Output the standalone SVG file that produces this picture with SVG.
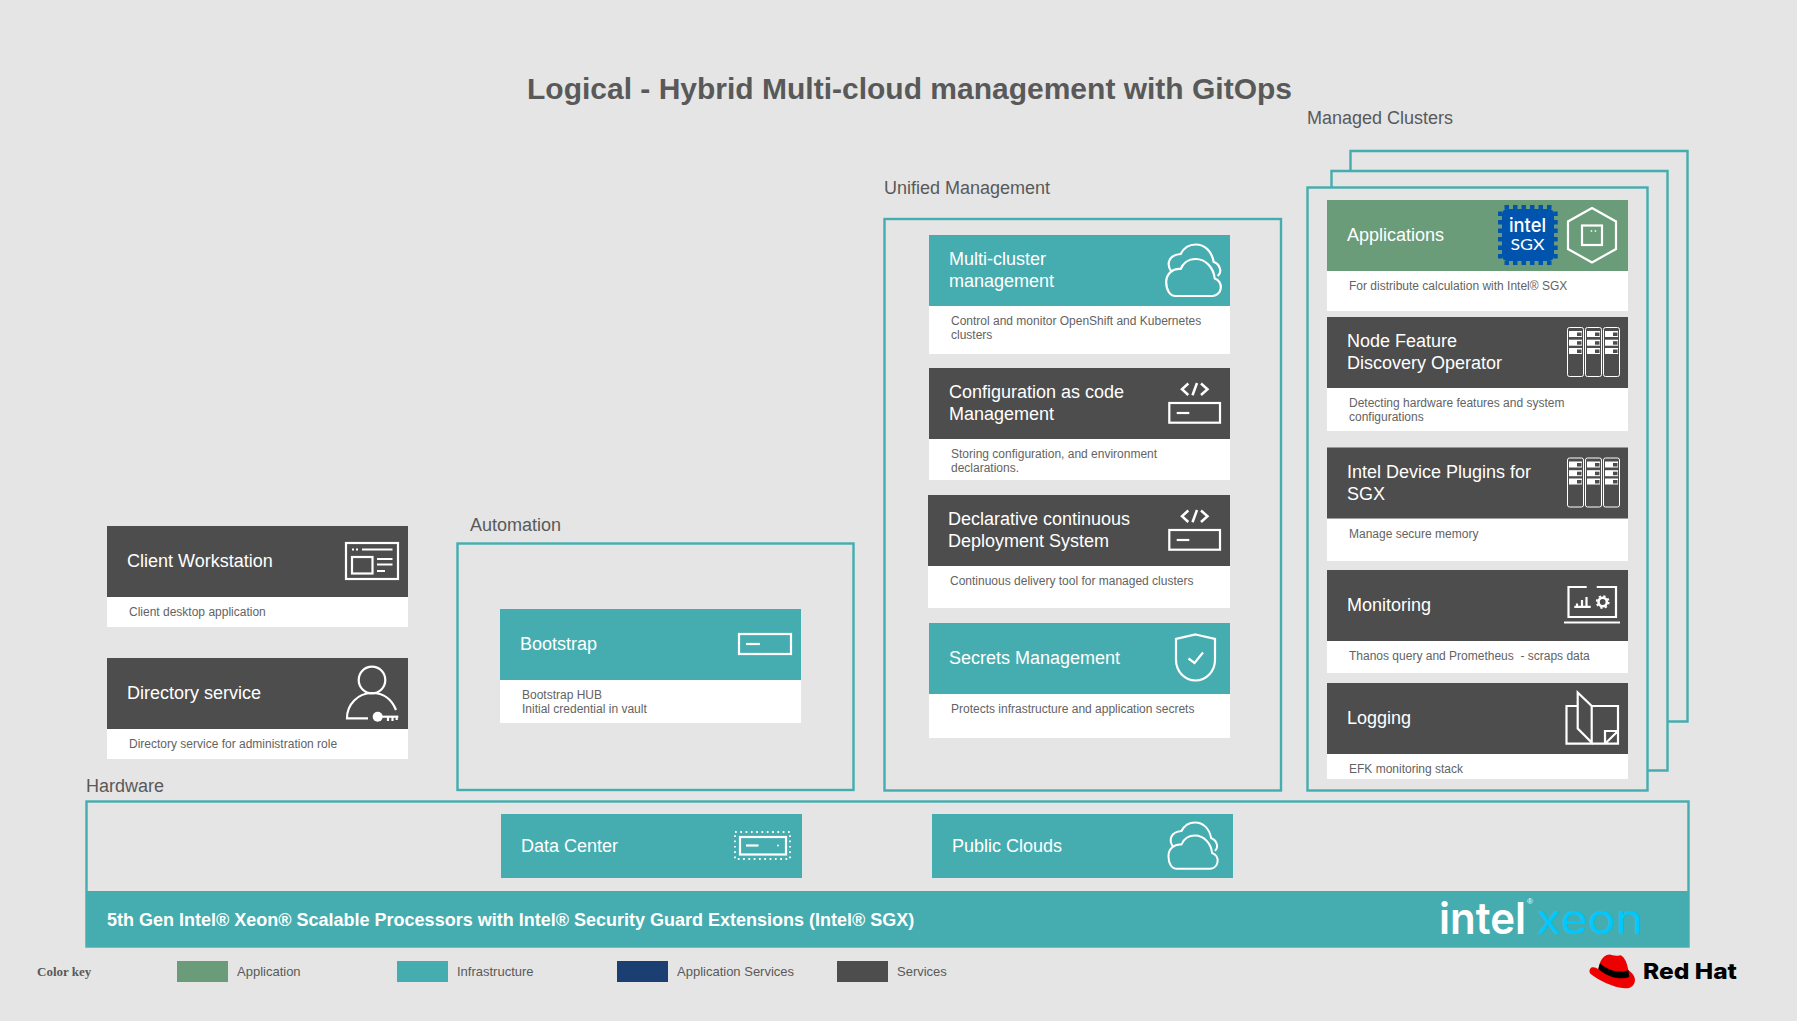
<svg xmlns="http://www.w3.org/2000/svg" xmlns:xlink="http://www.w3.org/1999/xlink" width="1797" height="1021" viewBox="0 0 1797 1021">
<style>
text{font-family:"Liberation Sans",Arial,sans-serif}
.title{font-size:30px;font-weight:700;fill:#595959}
.lbl{font-size:18px;fill:#595959}
.h{font-size:18px;fill:#fff}
.d{font-size:12px;fill:#636363;white-space:pre}
.k{font-size:13px;fill:#595959}
.frame{fill:none;stroke:#45adb0;stroke-width:2.4}
.teal{fill:#45adb0}.dark{fill:#4d4d4d}.green{fill:#6a9c79}.navy{fill:#1c3f73}.white{fill:#fff}
.i{fill:none;stroke:#fff;stroke-width:2.2}
.i1{fill:none;stroke:#fff;stroke-width:1}
.f{fill:#fff}
</style>
<defs>
<g id="cloud" class="i" stroke-linejoin="round">
<path d="M10 52H47A9 9 0 0 0 49 34.500C48 24 40 15 30 15C22 15 17 20 15 25C7 24 .5 30 .5 38C.5 46 4 52 10 52Z"/>
<path d="M6 28C0 20 3 11 15 10C18 4 23 .5 30 .5C39 .5 46 7 48 18C54 20 57 28 52 32"/>
</g>
<g id="codesrv">
<rect class="i" x="240.300" y="35" width="50.700" height="19.700"/>
<path class="i" d="M247.700 45H260.300"/>
<path class="i" style="stroke-width:2.500" d="M259.300 15.500L253 21.300L259.300 27M272 15.500L278.500 21.300L272 27M268 15L263.500 27.300"/>
</g>
<g id="rack1">
<rect class="i1" x=".5" y=".5" width="16" height="49" rx="2"/>
<g class="f"><rect x="2" y="4" width="13" height="6"/><rect x="2" y="12.700" width="13" height="6"/><rect x="2" y="21" width="13" height="6"/></g>
<g class="dark"><rect x="10" y="5.500" width="4.500" height="3.500"/><rect x="10" y="14.200" width="4.500" height="3.500"/><rect x="10" y="22.500" width="4.500" height="3.500"/></g>
</g>
<g id="racks">
<use xlink:href="#rack1" href="#rack1" x="240" y="10"/>
<use xlink:href="#rack1" href="#rack1" x="258" y="10"/>
<use xlink:href="#rack1" href="#rack1" x="276" y="10"/>
</g>
</defs>
<rect width="1797" height="1021" fill="#e5e5e5"/>
<text class="title" x="527" y="99">Logical - Hybrid Multi-cloud management with GitOps</text>

<g id="managed-clusters">
<text class="lbl" x="1307" y="124">Managed Clusters</text>
<path class="frame" d="M1350.500 170V151H1687.500V721.500H1667.500"/>
<path class="frame" d="M1331.500 187V171H1667.500V770.500H1647.500"/>
<rect class="frame" x="1307.500" y="187.500" width="340" height="603"/>
</g>
<g id="unified-management">
<text class="lbl" x="884" y="194">Unified Management</text>
<rect class="frame" x="884.500" y="219" width="396.500" height="571.500"/>
</g>
<g id="automation">
<text class="lbl" x="470" y="531">Automation</text>
<rect class="frame" x="457.500" y="543.500" width="396" height="246.500"/>
</g>
<g id="hardware">
<text class="lbl" x="86" y="792">Hardware</text>
<rect class="frame" x="86.500" y="801.500" width="1602" height="145"/>
<rect class="teal" x="86" y="891" width="1603" height="55"/>
<text x="107" y="926" font-size="18" font-weight="700" fill="#fff">5th Gen Intel® Xeon® Scalable Processors with Intel® Security Guard Extensions (Intel® SGX)</text>
</g>

<g id="client-workstation">
<rect class="white" x="107" y="597" width="301" height="30"/><rect class="dark" x="107" y="526" width="301" height="71"/>
<text class="h" x="127" y="567">Client Workstation</text>
<text class="d" x="129" y="616">Client desktop application</text>
<rect class="i" x="346" y="543" width="52" height="36"/>
<path class="i" d="M362 549.500H392.500M377 559H392.500M377 564.500H392.500M377 571H385"/>
<rect class="i" x="352" y="557" width="20.500" height="16.500"/>
<path class="i" stroke-dasharray="2 2" d="M352 549.500H358"/>
</g>
<g id="directory-service">
<rect class="white" x="107" y="729" width="301" height="30"/><rect class="dark" x="107" y="658" width="301" height="71"/>
<text class="h" x="127" y="699">Directory service</text>
<text class="d" x="129" y="748">Directory service for administration role</text>
<circle class="i" cx="372" cy="680" r="13.300"/>
<path class="i" d="M368 718.300H347A25 25 0 0 1 372 693C384 693 392 700 396 710"/>
<circle class="f" cx="377.700" cy="716.700" r="5"/>
<path class="i" d="M378 716.700H398.300"/>
<path class="i" d="M388 717V721M392.500 717V721M396.700 717V720"/>
</g>
<g id="bootstrap">
<rect class="white" x="500" y="680" width="301" height="43"/><rect class="teal" x="500" y="609" width="301" height="71"/>
<text class="h" x="520" y="650">Bootstrap</text>
<text class="d" x="522" y="699">Bootstrap HUB</text>
<text class="d" x="522" y="713">Initial credential in vault</text>
<rect class="i" x="739" y="634" width="52" height="20"/>
<path class="i" d="M746 644H760"/>
</g>
<g id="data-center">
<rect class="teal" x="501" y="814" width="301" height="64"/>
<text class="h" x="521" y="852">Data Center</text>
<rect class="i" x="740" y="837" width="46" height="17.500"/>
<path class="i" d="M746 845.500H758.500"/>
<circle class="f" cx="778" cy="845.500" r="1"/>
<rect class="i" style="stroke-width:1.800" stroke-dasharray="1.700 3.600" x="735" y="832" width="55" height="27"/>
</g>
<g id="public-clouds">
<rect class="teal" x="932" y="814" width="301" height="64"/>
<text class="h" x="952" y="852">Public Clouds</text>
<use xlink:href="#cloud" href="#cloud" transform="translate(1168 822) scale(.9)"/>
</g>

<g id="multi-cluster-management">
<rect class="white" x="929" y="306" width="301" height="48"/><rect class="teal" x="929" y="235" width="301" height="71"/>
<text class="h" x="949" y="265">Multi-cluster</text><text class="h" x="949" y="287">management</text>
<text class="d" x="951" y="325">Control and monitor OpenShift and Kubernetes</text>
<text class="d" x="951" y="339">clusters</text>
<use xlink:href="#cloud" href="#cloud" transform="translate(1165.700 244)"/>
</g>
<g id="configuration-as-code">
<rect class="white" x="929" y="439" width="301" height="41"/><rect class="dark" x="929" y="368" width="301" height="71"/>
<text class="h" x="949" y="398">Configuration as code</text><text class="h" x="949" y="420">Management</text>
<text class="d" x="951" y="458">Storing configuration, and environment</text>
<text class="d" x="951" y="472">declarations.</text>
<use xlink:href="#codesrv" href="#codesrv" x="929" y="368"/>
</g>
<g id="declarative-continuous-deployment">
<rect class="white" x="928" y="566" width="302" height="42"/><rect class="dark" x="928" y="495" width="302" height="71"/>
<text class="h" x="948" y="525">Declarative continuous</text><text class="h" x="948" y="547">Deployment System</text>
<text class="d" x="950" y="585">Continuous delivery tool for managed clusters</text>
<use xlink:href="#codesrv" href="#codesrv" x="929" y="495"/>
</g>
<g id="secrets-management">
<rect class="white" x="929" y="694" width="301" height="44"/><rect class="teal" x="929" y="623" width="301" height="71"/>
<text class="h" x="949" y="664">Secrets Management</text>
<text class="d" x="951" y="713">Protects infrastructure and application secrets</text>
<path class="i" d="M1195.500 634.500L1215 639V660A19.500 20.500 0 0 1 1176 660V639Z"/>
<path class="i" d="M1188.500 658.500L1194.500 663L1203 652.500"/>
</g>

<g id="applications">
<rect class="white" x="1327" y="271" width="301" height="40"/><rect class="green" x="1327" y="200" width="301" height="71"/>
<text class="h" x="1347" y="241">Applications</text>
<text class="d" x="1349" y="290">For distribute calculation with Intel® SGX</text>
<rect x="1502" y="209" width="52" height="52" rx="5" fill="#0054ae"/>
<path fill="none" stroke="#0054ae" stroke-width="4" stroke-dasharray="4.500 4" d="M1504.500 207H1552M1504.500 263H1552M1500 211.500V259M1555.700 211.500V259"/>
<text x="1527.500" y="231.500" text-anchor="middle" font-size="19" font-weight="500" fill="#fff" textLength="37" lengthAdjust="spacingAndGlyphs" style="font-family:Inter,'Liberation Sans',sans-serif">intel</text>
<text x="1527.500" y="250" text-anchor="middle" font-size="16" fill="#fff" textLength="34" lengthAdjust="spacingAndGlyphs" style="font-family:Lato,'Liberation Sans',sans-serif">SGX</text>
<path class="i" d="M1592 208L1616 221.500V249L1592 262.500L1568 249V221.500Z"/>
<rect class="i" x="1582" y="225.500" width="20" height="19.500"/>
<path class="i" style="stroke-width:1.500" stroke-dasharray="1.500 2.500" d="M1590.700 231H1597"/>
</g>
<g id="node-feature-discovery-operator">
<rect class="white" x="1327" y="388" width="301" height="43"/><rect class="dark" x="1327" y="317" width="301" height="71"/>
<text class="h" x="1347" y="347">Node Feature</text><text class="h" x="1347" y="369">Discovery Operator</text>
<text class="d" x="1349" y="407">Detecting hardware features and system</text>
<text class="d" x="1349" y="421">configurations</text>
<use xlink:href="#racks" href="#racks" x="1327" y="317"/>
</g>
<g id="intel-device-plugins">
<rect class="white" x="1327" y="518.500" width="301" height="42.500"/><rect class="dark" x="1327" y="447.500" width="301" height="71"/>
<text class="h" x="1347" y="478">Intel Device Plugins for</text><text class="h" x="1347" y="500">SGX</text>
<text class="d" x="1349" y="538">Manage secure memory</text>
<use xlink:href="#racks" href="#racks" x="1327" y="447.500"/>
</g>
<g id="monitoring">
<rect class="white" x="1327" y="641" width="301" height="32"/><rect class="dark" x="1327" y="570" width="301" height="71"/>
<text class="h" x="1347" y="611">Monitoring</text>
<text class="d" x="1349" y="660" xml:space="preserve">Thanos query and Prometheus  - scraps data</text>
<path class="i" d="M1586.700 587H1568.500V617H1616V587H1596.700M1564 622.500H1620M1574.300 606.800H1590.700"/>
<path class="i" d="M1577 607V603.500M1582 607V600M1586.500 607V597"/>
<circle cx="1602.700" cy="602" r="4.200" fill="none" stroke="#fff" stroke-width="2.600"/>
<circle cx="1602.700" cy="602" r="6" fill="none" stroke="#fff" stroke-width="1.800" stroke-dasharray="2.300 2.400"/>
</g>
<g id="logging">
<rect class="white" x="1327" y="754" width="301" height="25"/><rect class="dark" x="1327" y="683" width="301" height="71"/>
<text class="h" x="1347" y="724">Logging</text>
<text class="d" x="1349" y="773">EFK monitoring stack</text>
<path class="i" d="M1577.700 706H1566.500V743.700H1618V706H1591.700M1577.700 692.500L1591.700 706V742.500L1577.700 728.500ZM1605 743.700V731H1618M1605 743.700L1618 731"/>
</g>

<g id="intel-xeon-logo">
<text x="1439" y="934" font-size="44" font-weight="600" fill="#fff" textLength="87" lengthAdjust="spacingAndGlyphs" style="font-family:Inter,'Liberation Sans',sans-serif">intel</text>
<text x="1530" y="904" text-anchor="middle" font-size="8" fill="#fff">®</text>
<text x="1536" y="934" font-size="42" font-weight="400" fill="#00c7fd" textLength="107" lengthAdjust="spacingAndGlyphs" style="font-family:Inter,'Liberation Sans',sans-serif">xeon</text>
</g>
<g id="red-hat-logo">
<g transform="translate(1380 860) scale(.3333)">
<path fill="#e00" d="M660 308C668 290 680 282 692 284C705 287 715 288 722 286C735 292 742 312 745 330C758 340 766 350 765 362C763 378 750 386 735 385C700 383 655 360 632 342C626 336 628 326 636 322C645 320 652 326 655 328Z"/>
<path fill="#000" d="M655 326L660 310C680 330 720 342 745 330L748 351C720 362 680 350 655 326Z"/>
</g>
<text x="1643" y="979" font-size="22" font-weight="800" fill="#000" textLength="94" lengthAdjust="spacingAndGlyphs" style="font-family:Inter,'Liberation Sans',sans-serif">Red Hat</text>
</g>

<g id="color-key">
<text x="37" y="976" font-size="13" font-weight="700" fill="#595959" style="font-family:'Liberation Serif',serif">Color key</text>
<rect class="green" x="177" y="961" width="51" height="21"/><text class="k" x="237" y="976">Application</text>
<rect class="teal" x="397" y="961" width="51" height="21"/><text class="k" x="457" y="976">Infrastructure</text>
<rect class="navy" x="617" y="961" width="51" height="21"/><text class="k" x="677" y="976">Application Services</text>
<rect class="dark" x="837" y="961" width="51" height="21"/><text class="k" x="897" y="976">Services</text>
</g>
</svg>
